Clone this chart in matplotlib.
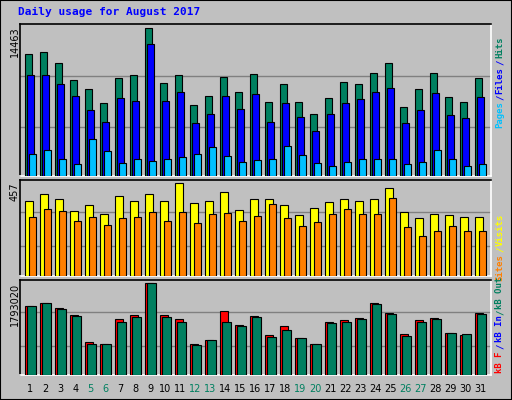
import numpy as np
import matplotlib
matplotlib.use("Agg")
import matplotlib.pyplot as plt
from matplotlib.patches import Rectangle

days = list(range(1, 32))
weekend = [5, 6, 12, 13, 19, 20, 26, 27]

hits = [11932, 12195, 11110, 9434, 8546, 7166, 9631, 9927, 14463, 9138, 9927, 6968,
        7856, 9730, 8250, 10025, 7264, 9039, 7264, 6081, 7659, 9236, 9039, 10124,
        11110, 6771, 8546, 10124, 7757, 7264, 9631]
files = [9927, 9927, 9039, 7856, 6475, 5292, 7659, 7363, 12918, 7363, 8250, 5193,
         6081, 7856, 6574, 8053, 5292, 7166, 5785, 4405, 6081, 7166, 7560, 8250,
         8645, 5193, 6475, 8152, 5982, 5686, 7757]
pages = [2137, 2531, 1644, 1150, 3616, 2432, 1249, 1644, 1446, 1644, 1841, 2137,
         2827, 1939, 1348, 1545, 1644, 2925, 2038, 1249, 953, 1348, 1644, 1644,
         1644, 1150, 1348, 2531, 1644, 953, 1150]
visits = [367, 402, 377, 318, 348, 303, 392, 367, 402, 367, 457, 358,
          367, 412, 323, 377, 377, 348, 298, 333, 363, 377, 367, 377,
          432, 313, 283, 303, 298, 288, 288]
sites = [288, 328, 318, 269, 288, 248, 283, 288, 313, 269, 313, 258,
         303, 308, 269, 293, 354, 283, 243, 263, 303, 328, 303, 303,
         384, 238, 194, 223, 243, 223, 223]
kb_f = [1340000, 1400000, 1300000, 1160000, 650000, 610000, 1080000, 1160000,
        1793020, 1160000, 1080000, 610000, 690000, 1240000, 970000, 1140000,
        770000, 950000, 710000, 610000, 1030000, 1070000, 1100000, 1400000,
        1200000, 790000, 1070000, 1100000, 810000, 770000, 1200000]
kb_in = [1340000, 1400000, 1280000, 1140000, 610000, 610000, 1040000, 1120000,
         1793020, 1120000, 1040000, 590000, 690000, 1030000, 950000, 1120000,
         730000, 870000, 710000, 610000, 1010000, 1040000, 1080000, 1380000,
         1180000, 750000, 1040000, 1080000, 810000, 790000, 1180000]

BG = "#C0C0C0"
GREEN = "#008060"
BLUE = "#0000FF"
CYAN = "#00C0FF"
YEL = "#FFFF00"
ORA = "#FF8000"
RED = "#FF0000"
MONO = "DejaVu Sans Mono"

W, H = 512, 400
fig = plt.figure(figsize=(W / 100, H / 100), dpi=100)
fig.patch.set_facecolor(BG)
fig.patches.append(Rectangle((0, 0), 1, 1, transform=fig.transFigure,
                             fill=False, ec="black", lw=1.5))


def panel(top, bot):
    ax = fig.add_axes([20 / W, 1 - bot / H, 471 / W, (bot - top) / H])
    ax.set_facecolor(BG)
    ax.set_xlim(0, 471)
    ax.set_xticks([])
    ax.set_yticks([])
    for s in ax.spines.values():
        s.set_color("white")
        s.set_linewidth(1.2)
    ax.spines["top"].set_color("black")
    ax.spines["left"].set_color("black")
    return ax


def bars(ax, vals, off, w, col):
    x = [5.3 + 15 * (d - 1) + off for d in days]
    ax.bar(x, vals, width=w, align="edge", color=col, edgecolor="black",
           lw=0.8, zorder=3)


def vtext(x, pieces, size=6.5):
    # pieces: (text, colour, bottom y in pixels)
    for s, c, y in pieces:
        fig.text(x / W, 1 - y / H, s, rotation=90, color=c, fontsize=size,
                 family=MONO, ha="center", va="bottom", weight="bold")


# top panel
ax1 = panel(24, 176)
ax1.set_ylim(0, 14463 * 1.03)
for g in [4799, 9828]:
    ax1.axhline(g, color="#808080", lw=1, zorder=1)
bars(ax1, hits, 0, 7, GREEN)
bars(ax1, files, 2, 7, BLUE)
bars(ax1, pages, 4, 6.5, CYAN)

# middle panel
ax2 = panel(180, 276)
ax2.set_ylim(0, 457 * 1.03)
for g in [149, 313]:
    ax2.axhline(g, color="#808080", lw=1, zorder=1)
bars(ax2, visits, 0, 8, YEL)
bars(ax2, sites, 4, 7, ORA)

# bottom panel
ax3 = panel(280, 375)
ax3.set_ylim(0, 1793020 * 1.03)
for g in [571400, 1221600]:
    ax3.axhline(g, color="#808080", lw=1, zorder=1)
bars(ax3, kb_f, 0, 8, RED)
bars(ax3, kb_in, 2, 9, GREEN)

# day labels
for d in days:
    x = 20 + 5.3 + 15 * (d - 1) + 5
    fig.text(x / W, 1 - 389 / H, str(d), ha="center", va="center",
             fontsize=7, family="DejaVu Sans",
             color=GREEN if d in weekend else "black")

# left max labels
for y, s in [(26, "14463"), (182, "457"), (283, "1793020")]:
    fig.text(15 / W, 1 - y / H, s, rotation=90, ha="center", va="top",
             fontsize=7, family="DejaVu Sans", color="black")

# right legends
vtext(500, [("Pages", CYAN, 128), ("/", BLUE, 100), ("Files", BLUE, 94),
            ("/", BLUE, 65), ("Hits", GREEN, 58)])
vtext(500, [("Sites", ORA, 281), ("/", YEL, 252), ("Visits", YEL, 246)])
vtext(500, [("kB F", RED, 373), ("/", BLUE, 349), ("kB In", BLUE, 342),
            ("/", GREEN, 315), ("kB Out", GREEN, 309)])

fig.text(18 / W, 1 - 12 / H, "Daily usage for August 2017", color=BLUE,
         fontsize=8, family=MONO, weight="bold", ha="left", va="center")

fig.savefig("out.png", dpi=100, facecolor=BG)
